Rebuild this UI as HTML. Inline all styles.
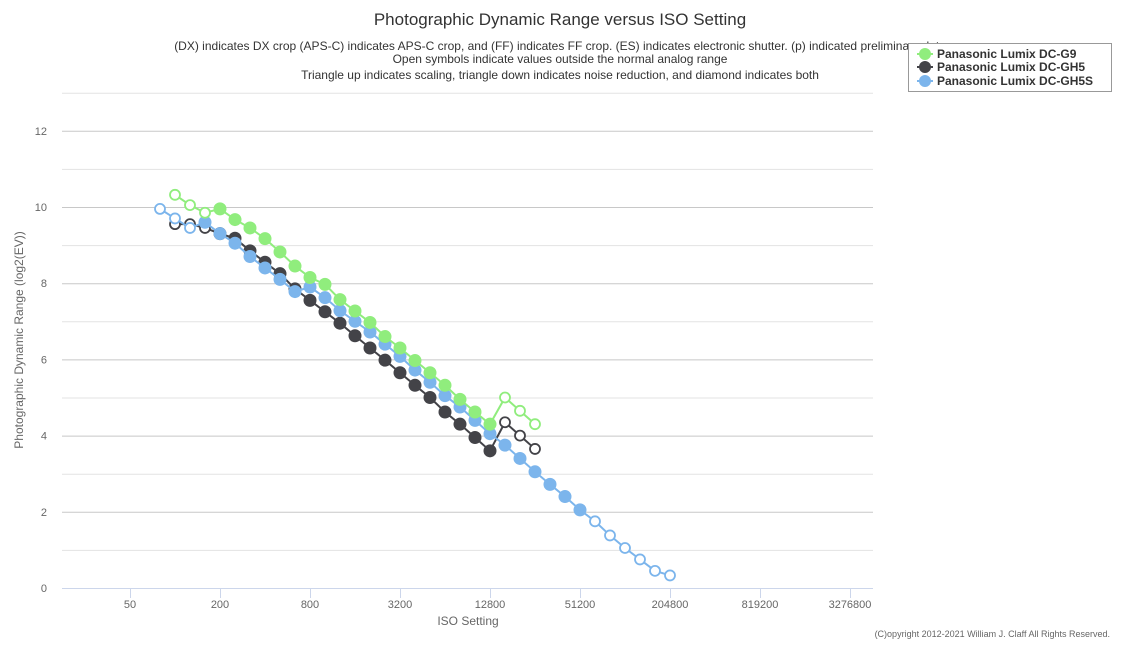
<!DOCTYPE html>
<html><head><meta charset="utf-8"><style>
body{margin:0;background:#fff;width:1121px;height:642px;overflow:hidden;font-family:"Liberation Sans","DejaVu Sans",sans-serif}
</style></head><body>
<svg id="s" width="1121" height="642" xmlns="http://www.w3.org/2000/svg" font-family="Liberation Sans, DejaVu Sans, sans-serif">
<text x="560" y="25" text-anchor="middle" font-size="17" fill="#333">Photographic Dynamic Range versus ISO Setting</text>
<text x="560" y="50" text-anchor="middle" font-size="12" fill="#333">(DX) indicates DX crop (APS-C) indicates APS-C crop, and (FF) indicates FF crop. (ES) indicates electronic shutter. (p) indicated preliminary data</text>
<text x="560" y="63" text-anchor="middle" font-size="12" fill="#333">Open symbols indicate values outside the normal analog range</text>
<text x="560" y="79" text-anchor="middle" font-size="12" fill="#333">Triangle up indicates scaling, triangle down indicates noise reduction, and diamond indicates both</text>
<g id="grid"></g>
<text transform="translate(23,340) rotate(-90)" text-anchor="middle" font-size="12" fill="#666">Photographic Dynamic Range (log2(EV))</text>
<text x="468" y="625" text-anchor="middle" font-size="12" fill="#666">ISO Setting</text>
<text x="1110" y="637" text-anchor="end" font-size="9" fill="#666">(C)opyright 2012-2021 William J. Claff All Rights Reserved.</text>
<g id="data"></g>
<rect x="908.5" y="43.5" width="203" height="48" fill="#fff" stroke="#999"/>
<g font-size="12" font-weight="bold" fill="#333">
<circle cx="925" cy="54" r="6" fill="#90ed7d"/><line x1="917" y1="54" x2="933" y2="54" stroke="#90ed7d" stroke-width="2"/><text x="937" y="58">Panasonic Lumix DC-G9</text>
<circle cx="925" cy="67" r="6" fill="#434348"/><line x1="917" y1="67" x2="933" y2="67" stroke="#434348" stroke-width="2"/><text x="937" y="71">Panasonic Lumix DC-GH5</text>
<circle cx="925" cy="81" r="6" fill="#7cb5ec"/><line x1="917" y1="81" x2="933" y2="81" stroke="#7cb5ec" stroke-width="2"/><text x="937" y="85">Panasonic Lumix DC-GH5S</text>
</g>
</svg>
<script>
var NS="http://www.w3.org/2000/svg";
function el(p,t,a,txt){var e=document.createElementNS(NS,t);for(var k in a)e.setAttribute(k,a[k]);if(txt!=null)e.textContent=txt;p.appendChild(e);return e;}
var g=document.getElementById('grid'),d=document.getElementById('data');
function Y(v){return 588-38.1*v;}
for(var v=1;v<=13;v++){el(g,'line',{x1:62,x2:873,y1:Y(v)+.5,y2:Y(v)+.5,stroke:v%2?'#e3e3e3':'#c8c8c8','stroke-width':1});}
for(var v=0;v<=12;v+=2){el(g,'text',{x:47,y:Y(v)+4,'text-anchor':'end','font-size':11,fill:'#666'},v);}
el(g,'line',{x1:62,x2:873,y1:588.5,y2:588.5,stroke:'#ccd6eb'});
var lab=['50','200','800','3200','12800','51200','204800','819200','3276800'];
for(var i=0;i<9;i++){var x=130+90*i;el(g,'line',{x1:x+.5,x2:x+.5,y1:589,y2:598,stroke:'#ccd6eb'});el(g,'text',{x:x,y:608,'text-anchor':'middle','font-size':11,fill:'#666'},lab[i]);}
function series(col,x0,vals,openIdx){
 var pts=vals.map(function(v,i){return [x0+15*i,Y(v)];});
 el(d,'polyline',{points:pts.map(function(p){return p.join(',')}).join(' '),fill:'none',stroke:col,'stroke-width':2});
 pts.forEach(function(p,i){var o=openIdx(i);el(d,'circle',{cx:p[0],cy:p[1],r:o?5:6.5,fill:o?'#fff':col,stroke:o?col:'none','stroke-width':1.8});});
}
series('#434348',175,[9.55,9.55,9.45,9.3,9.18,8.85,8.55,8.25,7.85,7.55,7.25,6.95,6.62,6.3,5.98,5.65,5.32,5.0,4.62,4.3,3.95,3.6,4.35,4.0,3.65],function(i){return i<3||i>21;});
series('#7cb5ec',160,[9.95,9.7,9.45,9.6,9.3,9.05,8.7,8.4,8.1,7.78,7.9,7.62,7.28,7.0,6.72,6.4,6.08,5.72,5.4,5.05,4.75,4.4,4.05,3.75,3.4,3.05,2.72,2.4,2.05,1.75,1.38,1.05,0.75,0.45,0.33],function(i){return i<3||i>28;});
series('#90ed7d',175,[10.32,10.05,9.85,9.95,9.67,9.45,9.17,8.82,8.45,8.15,7.97,7.57,7.27,6.97,6.6,6.3,5.97,5.65,5.32,4.95,4.62,4.3,5.0,4.65,4.3],function(i){return i<3||i>21;});
</script>
</body></html>
